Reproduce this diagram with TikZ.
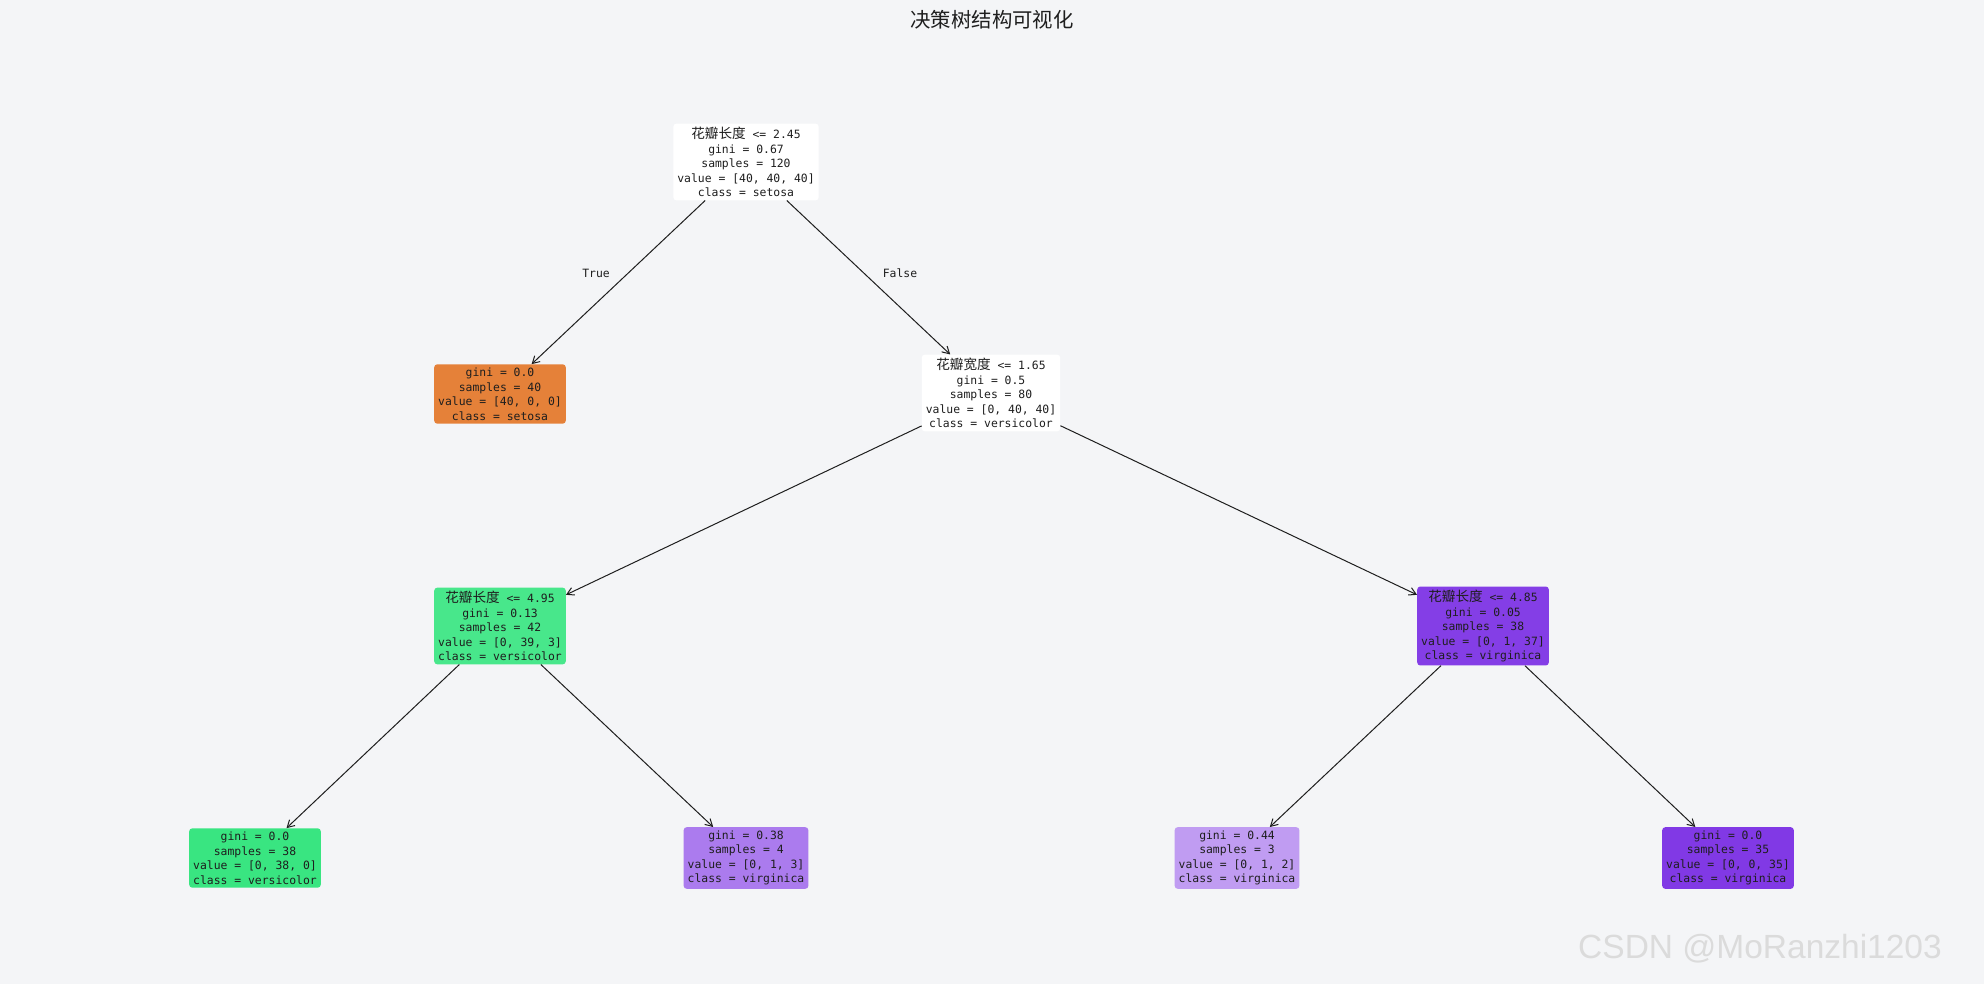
\documentclass[tikz,border=0pt]{standalone}
\usepackage{fontspec}
\setmainfont{DejaVu Sans Mono}
\newfontfamily\cjk{Noto Sans CJK SC}
\newfontfamily\wmfont{Liberation Sans}
\usetikzlibrary{arrows.meta}
\definecolor{bgc}{HTML}{F4F5F7}
\definecolor{txt}{HTML}{1E1E1E}
\definecolor{cOrange}{HTML}{E58139}
\definecolor{cGreenA}{HTML}{48E78B}
\definecolor{cGreen}{HTML}{39E581}
\definecolor{cPurpleA}{HTML}{843EE6}
\definecolor{cPurple}{HTML}{8139E5}
\definecolor{cLavA}{HTML}{AB7BEE}
\definecolor{cLavB}{HTML}{C09CF2}
\newcommand\zh[1]{{\cjk\fontsize{13.6}{14.5}\selectfont #1}}
\tikzset{
  treebox/.style={rounded corners=3pt, align=center, text=txt,
    font=\fontsize{11.4}{14.5}\selectfont, inner xsep=4pt, inner ysep=3.5pt},
  edgelbl/.style={text=txt, font=\fontsize{11.4}{14.5}\selectfont},
  treeedge/.style={draw=txt, line width=1pt, -{Straight Barb[length=7pt,width=8pt]}},
}
\begin{document}
\begin{tikzpicture}[x=1pt,y=-1pt]
\fill[bgc] (0,0) rectangle (1984,984);
\useasboundingbox (0,0) rectangle (1984,984);
\node[text=txt, font=\cjk\fontsize{20.4}{24}\selectfont] (title) at (992,20) {决策树结构可视化};

\node[treebox, fill=white] (root) at (746,162) {\zh{花瓣长度} <= 2.45\\gini = 0.67\\samples = 120\\value = [40, 40, 40]\\class = setosa};
\node[treebox, fill=cOrange] (n1) at (500,394) {gini = 0.0\\samples = 40\\value = [40, 0, 0]\\class = setosa};
\node[treebox, fill=white] (n2) at (991,393) {\zh{花瓣宽度} <= 1.65\\gini = 0.5\\samples = 80\\value = [0, 40, 40]\\class = versicolor};
\node[treebox, fill=cGreenA] (n3) at (500,626) {\zh{花瓣长度} <= 4.95\\gini = 0.13\\samples = 42\\value = [0, 39, 3]\\class = versicolor};
\node[treebox, fill=cPurpleA] (n4) at (1483,626) {\zh{花瓣长度} <= 4.85\\gini = 0.05\\samples = 38\\value = [0, 1, 37]\\class = virginica};
\node[treebox, fill=cGreen] (n5) at (255,858) {gini = 0.0\\samples = 38\\value = [0, 38, 0]\\class = versicolor};
\node[treebox, fill=cLavA] (n6) at (746,858) {gini = 0.38\\samples = 4\\value = [0, 1, 3]\\class = virginica};
\node[treebox, fill=cLavB] (n7) at (1237,858) {gini = 0.44\\samples = 3\\value = [0, 1, 2]\\class = virginica};
\node[treebox, fill=cPurple] (n8) at (1728,858) {gini = 0.0\\samples = 35\\value = [0, 0, 35]\\class = virginica};

\draw[treeedge] (root) -- (n1);
\draw[treeedge] (root) -- (n2);
\draw[treeedge] (n2) -- (n3);
\draw[treeedge] (n2) -- (n4);
\draw[treeedge] (n3) -- (n5);
\draw[treeedge] (n3) -- (n6);
\draw[treeedge] (n4) -- (n7);
\draw[treeedge] (n4) -- (n8);

\node[edgelbl] (ltrue) at (596,273) {True};
\node[edgelbl] (lfalse) at (900,273) {False};

\node[text=black!14, font=\wmfont\fontsize{33.5}{38}\selectfont, anchor=east, inner sep=0pt] (wm) at (1942,949) {CSDN @MoRanzhi1203};
\end{tikzpicture}
\end{document}
